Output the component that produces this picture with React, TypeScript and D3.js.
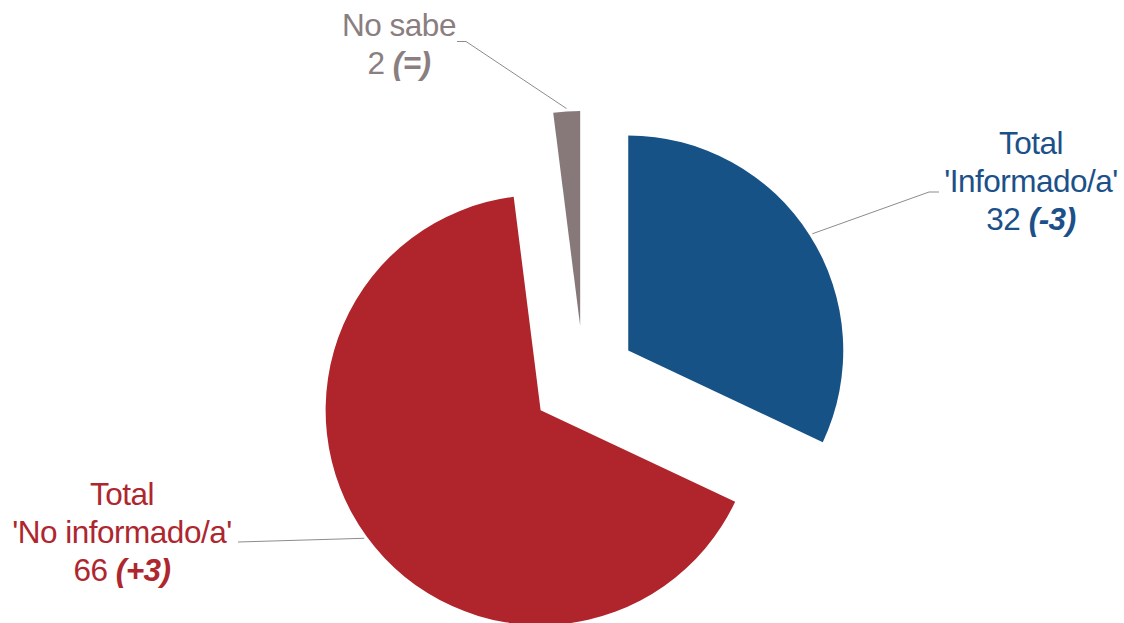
import React from "react";
import * as d3 from "d3";

const categories = ["Total 'Informado/a'", "Total 'No informado/a'", "No sabe"];
const values = [32, 66, 2];
const changes = ["(-3)", "(+3)", "(=)"];
const labelLines = [["Total", "'Informado/a'"], ["Total", "'No informado/a'"], ["No sabe"]];
const colors = ["#175287", "#B0242B", "#87797A"];
const textColors = ["#1B5089", "#AE262E", "#8A7E80"];

const W = 1124, H = 623;
const cx = 583.5, cy = 379, R = 215, explode = 53;
const FS = 31.5, LH = 38;
// label layout: [x center, first baseline, elbow x, elbow y, line end x]
const labelPos = [
  { x: 1031, y: 154, ex: 929, ey: 192, lx: 939 },
  { x: 122, y: 505, ex: 238, ey: 542, lx: 238 },
  { x: 399, y: 36, ex: 466, ey: 41.5, lx: 457 },
];

export default function App() {
  const pie = d3.pie<number>().sort(null).value((d) => d);
  const arcs = pie(values);
  const arcGen = d3.arc<d3.PieArcDatum<number>>().innerRadius(0).outerRadius(R);

  return (
    <svg width={W} height={H} style={{ position: "absolute", left: 0, top: 0, background: "#fff" }}
      fontFamily="'Liberation Sans', Arial, sans-serif">
      {arcs.map((a, i) => {
        const mid = (a.startAngle + a.endAngle) / 2;
        const ox = cx + explode * Math.sin(mid);
        const oy = cy - explode * Math.cos(mid);
        const px = ox + (R + 3) * Math.sin(mid);
        const py = oy - (R + 3) * Math.cos(mid);
        const lp = labelPos[i];
        const lines = labelLines[i];
        return (
          <g key={categories[i]}>
            <path d={arcGen(a) || ""} transform={`translate(${ox},${oy})`} fill={colors[i]} />
            <polyline points={`${px},${py} ${lp.ex},${lp.ey} ${lp.lx},${lp.ey}`} fill="none" stroke="#8c8c8c" strokeWidth={1} />
            <text textAnchor="middle" fill={textColors[i]} fontSize={FS} letterSpacing={-0.5}>
              {lines.map((l, j) => (
                <tspan key={j} x={lp.x} y={lp.y + j * LH}>{l}</tspan>
              ))}
              <tspan x={lp.x} y={lp.y + lines.length * LH}>
                {values[i] + " "}
                <tspan fontWeight="bold" fontStyle="italic">{changes[i]}</tspan>
              </tspan>
            </text>
          </g>
        );
      })}
    </svg>
  );
}
